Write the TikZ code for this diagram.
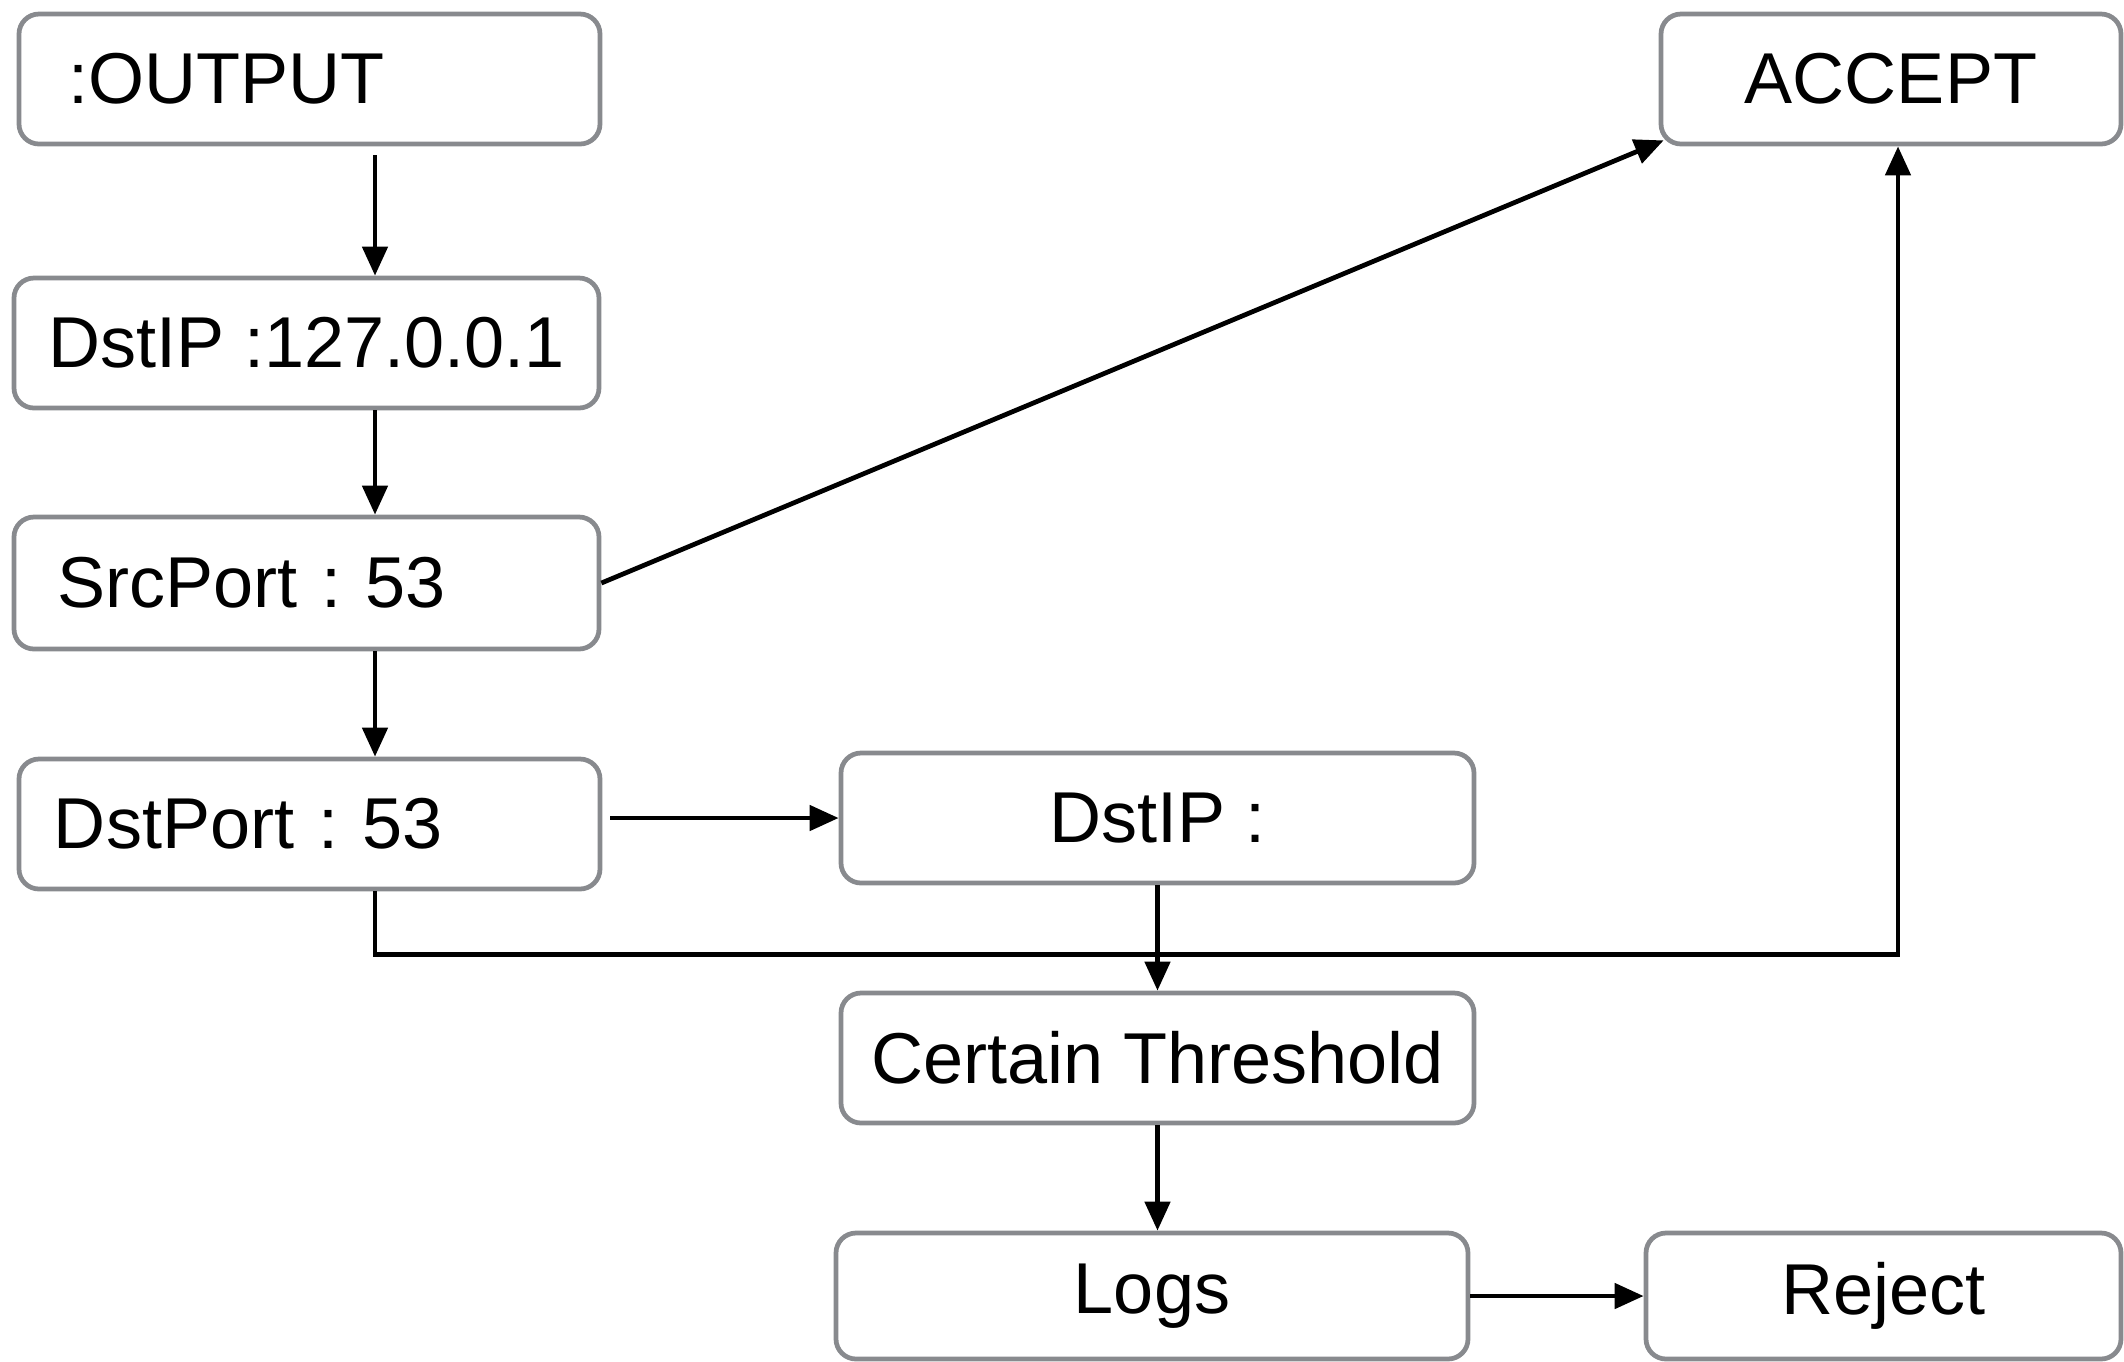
\documentclass[tikz,border=0pt]{standalone}
\usepackage{fontspec}
\setmainfont{Liberation Sans}
\usetikzlibrary{arrows.meta,calc}
\definecolor{boxgray}{HTML}{888A8E}
\frenchspacing
\begin{document}
\begin{tikzpicture}[
    box/.style={draw=boxgray,line width=1.35pt,rounded corners=0.2cm,fill=white,minimum height=1.3cm,inner sep=0pt,font=\fontsize{20.5}{24}\selectfont},
    flow/.style={line width=1.35pt,-{Triangle[length=2.9mm,width=2.5mm]}}
    ]
        \useasboundingbox (0,0) rectangle (21.24,-13.61);
        \node[box,text width=4.83cm,inner xsep=0.49cm,align=left] (out) at (3.095,-0.79) {:OUTPUT};
        \node[box,minimum width=5.85cm] (ip) at (3.065,-3.43) {DstIP :127.0.0.1};
        \node[box,minimum height=1.32cm,text width=4.99cm,inner xsep=0.43cm,align=left] (src) at (3.065,-5.83) {SrcPort : 53};
        \node[box,text width=5.11cm,inner xsep=0.35cm,align=left] (dport) at (3.095,-8.24) {DstPort : 53};
        \node[box,minimum width=6.33cm] (dip) at (11.575,-8.18) {DstIP :};
        \node[box,minimum width=6.33cm] (thr) at (11.575,-10.58) {Certain Threshold};
        \node[box,minimum width=6.32cm,minimum height=1.26cm] (logs) at (11.52,-12.96) {Logs};
        \node[box,minimum width=4.75cm,minimum height=1.26cm] (rej) at (18.835,-12.96) {Reject};
        \node[box,minimum width=4.6cm] (acc) at (18.91,-0.79) {ACCEPT};
        \coordinate (spine) at (3.75,0);
        \draw[flow,shorten <=0.09cm] (out.south -| spine) -- (ip.north -| spine);
        \draw[flow] (ip.south -| spine) -- (src.north -| spine);
        \draw[flow] (src.south -| spine) -- (dport.north -| spine);
        \draw[flow] (src.east) -- ($(acc.south west)+(0.05,0.06)$);
        \draw[flow,shorten <=0.08cm] (dport.east |- dip.west) -- (dip.west);
        \draw[flow] (dport.south -| spine) -- ++(0,-0.63) -| ($(acc.south)+(0.07,0)$);
        \draw[flow] (dip.south) -- (thr.north);
        \draw[flow] (thr.south) -- (thr.south |- logs.north);
        \draw[flow] (logs.east) -- (rej.west);
\end{tikzpicture}
\end{document}
